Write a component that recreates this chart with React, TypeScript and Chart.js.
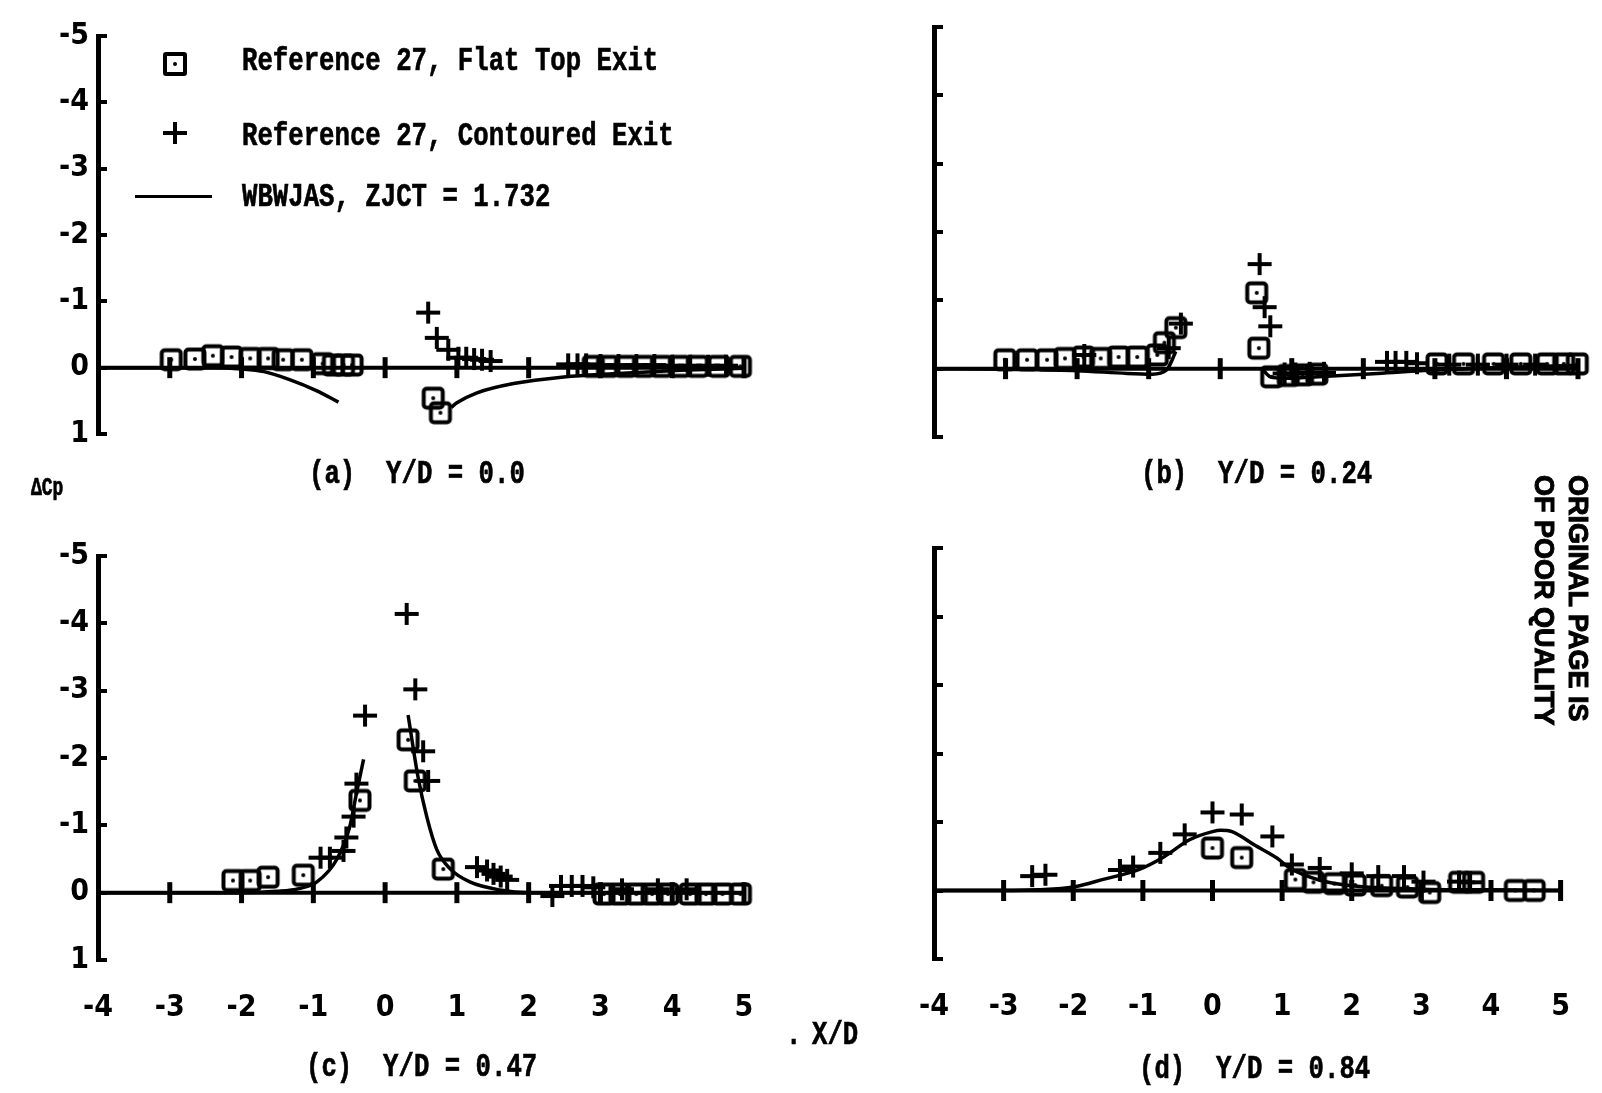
import React, { useEffect, useRef } from 'react';
import { Chart, registerables } from 'chart.js';

Chart.register(...registerables);

type Pt = [number, number];

// ---- axis ticks ----
const xTickLabels = [-4, -3, -2, -1, 0, 1, 2, 3, 4, 5];
const yTickLabels = [-5, -4, -3, -2, -1, 0, 1];
const xAxisMarks = [-3, -2, -1, 0, 1, 2, 3, 4, 5];

// ---- (a) Y/D = 0.0 ----
const aFlat: Pt[] = [
  [-2.98, -0.12], [-2.65, -0.13], [-2.4, -0.18], [-2.14, -0.16], [-1.88, -0.14], [-1.63, -0.14],
  [-1.42, -0.12], [-1.16, -0.12], [-0.87, -0.06], [-0.72, -0.04], [-0.58, -0.04], [-0.46, -0.04],
  [0.67, 0.46], [0.77, 0.68],
  [2.9, -0.02], [3.1, -0.02], [3.35, -0.02], [3.6, -0.02], [3.85, -0.02], [4.1, -0.02], [4.35, -0.02], [4.65, -0.02], [4.95, -0.02],
];
const aCont: Pt[] = [
  [0.6, -0.83], [0.72, -0.45], [0.88, -0.27], [1.02, -0.15], [1.13, -0.15], [1.24, -0.13], [1.35, -0.12], [1.47, -0.1],
  [2.55, -0.05], [2.68, -0.05], [2.8, -0.05], [3.0, -0.04], [3.25, -0.04], [3.5, -0.04], [3.75, -0.04],
  [4.0, -0.03], [4.25, -0.03], [4.5, -0.03], [4.75, -0.03],
];
const aCurveLeft: Pt[] = [[-4, 0], [-3, 0], [-2.4, 0], [-2.0, 0.02], [-1.69, 0.06], [-1.33, 0.18], [-0.95, 0.35], [-0.65, 0.52]];
const aCurveRight: Pt[] = [[0.92, 0.6], [1.0, 0.53], [1.28, 0.38], [1.79, 0.24], [2.49, 0.14], [3.18, 0.09], [4.11, 0.04], [5, 0.01]];

// ---- (b) Y/D = 0.24 ----
const bFlat: Pt[] = [
  [-3.01, -0.13], [-2.7, -0.13], [-2.42, -0.13], [-2.17, -0.15], [-1.91, -0.17], [-1.67, -0.15], [-1.42, -0.17],
  [-1.16, -0.17], [-0.88, -0.2], [-0.78, -0.38], [-0.62, -0.6],
  [0.51, -1.11], [0.54, -0.3], [0.72, 0.12], [0.95, 0.1], [1.15, 0.09], [1.35, 0.08],
  [3.03, -0.07], [3.4, -0.07], [3.82, -0.07], [4.2, -0.07], [4.57, -0.07], [4.8, -0.07], [4.99, -0.07],
];
const bCont: Pt[] = [
  [-1.9, -0.2], [-0.72, -0.3], [-0.55, -0.66], [0.55, -1.53], [0.62, -0.9], [0.7, -0.62],
  [0.9, 0.07], [1.05, 0.07], [1.25, 0.06], [1.45, 0.06], [2.33, -0.1], [2.45, -0.1], [2.6, -0.1], [2.75, -0.08],
  [3.2, -0.06], [3.6, -0.06], [4.0, -0.06], [4.4, -0.06],
];
const bCurveLeft: Pt[] = [[-4, 0], [-3, 0.01], [-2, 0.03], [-1.3, 0.07], [-0.95, 0.08], [-0.75, 0.02], [-0.62, -0.25]];
const bCurveRight: Pt[] = [[0.6, 0.02], [0.7, 0.12], [0.9, 0.14], [1.5, 0.11], [2.2, 0.07], [3, 0.02], [4, -0.02], [5, -0.05]];

// ---- (c) Y/D = 0.47 ----
const cFlat: Pt[] = [
  [-2.12, -0.18], [-1.88, -0.18], [-1.63, -0.23], [-1.14, -0.26], [-0.35, -1.37],
  [0.32, -2.27], [0.42, -1.66], [0.81, -0.35],
  [3.05, 0.02], [3.27, 0.02], [3.5, 0.02], [3.72, 0.02], [3.94, 0.02], [4.25, 0.02], [4.47, 0.02], [4.7, 0.02], [4.95, 0.02],
];
const cCont: Pt[] = [
  [-0.9, -0.52], [-0.77, -0.52], [-0.58, -0.62], [-0.54, -0.82], [-0.44, -1.13], [-0.4, -1.62], [-0.28, -2.63],
  [0.3, -4.14], [0.42, -3.02], [0.53, -2.1], [0.6, -1.66],
  [1.28, -0.38], [1.42, -0.33], [1.51, -0.28], [1.61, -0.24], [1.7, -0.19],
  [2.33, 0.05], [2.45, -0.1], [2.6, -0.1], [2.75, -0.1], [2.9, -0.08], [3.3, -0.05], [3.8, -0.05], [4.2, -0.05],
];
const cCurveLeft: Pt[] = [[-4, 0], [-2, 0], [-1.5, -0.02], [-1.2, -0.06], [-0.95, -0.16], [-0.67, -0.5], [-0.49, -0.99], [-0.4, -1.47], [-0.3, -1.98]];
const cCurveRight: Pt[] = [[0.32, -2.64], [0.46, -1.71], [0.58, -1.13], [0.72, -0.64], [0.91, -0.35], [1.18, -0.16], [1.6, -0.04], [2.0, 0], [3, 0], [5, 0]];

// ---- (d) Y/D = 0.84 ----
const dFlat: Pt[] = [
  [0.0, -0.62], [0.42, -0.48], [1.19, -0.16], [1.45, -0.12], [1.75, -0.1], [2.05, -0.08], [2.43, -0.07],
  [2.8, -0.05], [3.12, 0.03], [3.55, -0.12], [3.75, -0.12], [4.35, 0.0], [4.62, 0.0],
];
const dCont: Pt[] = [
  [-2.59, -0.21], [-2.4, -0.23], [-1.33, -0.3], [-1.14, -0.35], [-0.75, -0.55], [-0.4, -0.82], [0.0, -1.14],
  [0.42, -1.11], [0.86, -0.79], [1.14, -0.38], [1.54, -0.33], [2.0, -0.25], [2.38, -0.21], [2.75, -0.21],
  [3.03, -0.13], [3.54, -0.13], [3.7, -0.12],
];
const dCurve: Pt[] = [
  [-4, 0], [-3, 0], [-2.5, -0.01], [-2, -0.05], [-1.54, -0.17], [-1.07, -0.3], [-0.7, -0.49], [-0.33, -0.74],
  [0.0, -0.86], [0.12, -0.88], [0.28, -0.86], [0.61, -0.66], [0.93, -0.47], [1.12, -0.32], [1.54, -0.15],
  [2.0, -0.07], [3, -0.02], [4, -0.01], [5, 0],
];

const TICK_FONT = '"Liberation Sans Narrow", "DejaVu Sans Condensed", "Liberation Sans", Arial, sans-serif';
const MONO = '"Liberation Mono", "DejaVu Sans Mono", monospace';

interface PanelSpec {
  left: number; top: number; width: number; height: number;
  area: { l: number; t: number; r: number; b: number };
  flat: Pt[]; cont: Pt[]; curves: Pt[][];
  showX: boolean; showY: boolean;
}

const panels: PanelSpec[] = [
  { left: 0, top: 0, width: 800, height: 470, area: { l: 98, t: 29, r: 744, b: 437 }, flat: aFlat, cont: aCont, curves: [aCurveLeft, aCurveRight], showX: false, showY: true },
  { left: 820, top: 0, width: 780, height: 470, area: { l: 934, t: 27, r: 1578, b: 437 }, flat: bFlat, cont: bCont, curves: [bCurveLeft, bCurveRight], showX: false, showY: false },
  { left: 0, top: 520, width: 800, height: 573, area: { l: 98, t: 548, r: 744, b: 960 }, flat: cFlat, cont: cCont, curves: [cCurveLeft, cCurveRight], showX: true, showY: true },
  { left: 820, top: 520, width: 780, height: 573, area: { l: 934, t: 548, r: 1578, b: 959 }, flat: dFlat, cont: dCont, curves: [dCurve], showX: true, showY: false },
];

function makeSquare(): HTMLCanvasElement {
  const c = document.createElement('canvas');
  c.width = 26; c.height = 26;
  const g = c.getContext('2d')!;
  g.strokeStyle = '#000';
  g.lineWidth = 4;
  g.lineJoin = 'round';
  g.beginPath();
  if ((g as any).roundRect) (g as any).roundRect(3.5, 3.5, 19, 19, 3);
  else g.rect(3.5, 3.5, 19, 19);
  g.stroke();
  g.fillStyle = '#000';
  g.beginPath();
  g.arc(13, 13, 2, 0, Math.PI * 2);
  g.fill();
  return c;
}

function makePlus(): HTMLCanvasElement {
  const c = document.createElement('canvas');
  c.width = 26; c.height = 24;
  const g = c.getContext('2d')!;
  g.strokeStyle = '#000';
  g.lineWidth = 4;
  g.beginPath();
  g.moveTo(1, 12); g.lineTo(25, 12);
  g.moveTo(13, 1); g.lineTo(13, 23);
  g.stroke();
  return c;
}

function buildConfig(p: PanelSpec, sq: HTMLCanvasElement, pl: HTMLCanvasElement): any {
  const toXY = (arr: Pt[]) => arr.map(([x, y]) => ({ x, y }));
  const curveSets = p.curves.map((c) => ({
    data: toXY(c), showLine: true, borderColor: '#000', borderWidth: 3.5, pointRadius: 0, pointHoverRadius: 0,
    cubicInterpolationMode: 'monotone', clip: false,
  }));
  const axisLine = {
    data: [{ x: xTickLabels[0], y: 0 }, { x: xTickLabels[xTickLabels.length - 1], y: 0 }],
    showLine: true, borderColor: '#000', borderWidth: 4, pointRadius: 0, pointHoverRadius: 0, clip: false,
  };
  const marks = {
    data: xAxisMarks.map((x) => ({ x, y: 0 })), pointStyle: 'line', pointRotation: 90, pointRadius: 10.5,
    pointBorderWidth: 5, pointBorderColor: '#000', pointBackgroundColor: '#000', clip: false,
  };
  const flat = { data: toXY(p.flat), pointStyle: sq, pointRadius: 5, pointBorderWidth: 0, clip: false };
  const cont = { data: toXY(p.cont), pointStyle: pl, pointRadius: 5, pointBorderWidth: 0, clip: false };

  const yWidth = p.area.l - p.left;
  const xHeight = p.top + p.height - p.area.b;
  const font = { family: TICK_FONT, size: 30, weight: 'bold' as const };

  return {
    type: 'scatter',
    data: { datasets: [cont, flat, ...curveSets, marks, axisLine] },
    options: {
      animation: false,
      responsive: false,
      events: [],
      layout: { padding: { left: 0, top: p.area.t - p.top, right: p.left + p.width - p.area.r, bottom: 0 } },
      plugins: { legend: { display: false }, tooltip: { enabled: false } },
      scales: {
        x: {
          type: 'linear', min: xTickLabels[0], max: xTickLabels[xTickLabels.length - 1], position: 'bottom',
          grid: { display: false, drawTicks: false },
          border: { display: false },
          ticks: { display: p.showX, color: '#000', font, padding: 30, autoSkip: false, maxRotation: 0 },
          afterBuildTicks: (s: any) => { s.ticks = xTickLabels.map((v) => ({ value: v })); },
          afterFit: (s: any) => { s.height = xHeight; },
        },
        y: {
          type: 'linear', min: yTickLabels[0], max: yTickLabels[yTickLabels.length - 1], reverse: true,
          grid: { drawOnChartArea: false, drawTicks: true, tickLength: -9, color: '#000', lineWidth: 4 },
          border: { display: true, color: '#000', width: 5 },
          ticks: { display: p.showY, color: '#000', font, padding: 18, autoSkip: false },
          afterBuildTicks: (s: any) => { s.ticks = yTickLabels.map((v) => ({ value: v })); },
          afterFit: (s: any) => { s.width = yWidth; },
        },
      },
    },
  };
}

function Txt(props: { x: number; cy: number; text: string; size?: number; sy?: number }) {
  const size = props.size ?? 25.7;
  const sy = props.sy ?? 1.3;
  return (
    <div
      style={{
        position: 'absolute', left: props.x, top: props.cy - 13, height: 30, lineHeight: '30px',
        fontFamily: MONO, fontWeight: 'bold', fontSize: size, whiteSpace: 'pre', color: '#000',
        transform: `scaleY(${sy})`, transformOrigin: 'left center',
        WebkitTextStroke: '0.5px #000',
      }}
    >
      {props.text}
    </div>
  );
}

export default function App() {
  const r0 = useRef<HTMLCanvasElement>(null);
  const r1 = useRef<HTMLCanvasElement>(null);
  const r2 = useRef<HTMLCanvasElement>(null);
  const r3 = useRef<HTMLCanvasElement>(null);
  const refs = [r0, r1, r2, r3];

  useEffect(() => {
    const sq = makeSquare();
    const pl = makePlus();
    const charts = panels.map((p, i) => new Chart(refs[i].current as HTMLCanvasElement, buildConfig(p, sq, pl)));
    return () => charts.forEach((c) => c.destroy());
  }, []);

  return (
    <div style={{ position: 'absolute', left: 0, top: 0, width: 1602, height: 1093, background: '#fff', overflow: 'hidden' }}>
      {panels.map((p, i) => (
        <canvas
          key={i}
          ref={refs[i]}
          width={p.width}
          height={p.height}
          style={{ position: 'absolute', left: p.left, top: p.top, width: p.width, height: p.height }}
        />
      ))}

      {/* legend */}
      <div style={{ position: 'absolute', left: 163, top: 52, width: 16, height: 16, border: '4px solid #000', borderRadius: 3 }}>
        <div style={{ position: 'absolute', left: 6, top: 6, width: 4, height: 4, borderRadius: 2, background: '#000' }} />
      </div>
      <div style={{ position: 'absolute', left: 163, top: 131, width: 24, height: 4, background: '#000' }} />
      <div style={{ position: 'absolute', left: 173, top: 122, width: 4, height: 22, background: '#000' }} />
      <div style={{ position: 'absolute', left: 135, top: 195, width: 77, height: 3, background: '#000' }} />
      <Txt x={242} cy={60} text="Reference 27, Flat Top Exit" />
      <Txt x={242} cy={135} text="Reference 27, Contoured Exit" />
      <Txt x={242} cy={196} text="WBWJAS, ZJCT = 1.732" />

      {/* captions */}
      <Txt x={309} cy={473} text="(a)  Y/D = 0.0" />
      <Txt x={1141} cy={473} text="(b)  Y/D = 0.24" />
      <Txt x={306} cy={1066} text="(c)  Y/D = 0.47" />
      <Txt x={1139} cy={1068} text="(d)  Y/D = 0.84" />

      <Txt x={31} cy={486} text="ΔCp" size={18} sy={1.4} />
      <Txt x={786} cy={1034} text="." />
      <Txt x={812} cy={1034} text="X/D" />

      {/* vertical note */}
      <div
        style={{
          position: 'absolute', left: 1595, top: 475, transform: 'rotate(90deg)', transformOrigin: 'top left',
          fontFamily: '"Liberation Sans", Arial, sans-serif', fontWeight: 900, fontSize: 27, lineHeight: '34px',
          whiteSpace: 'pre', color: '#000', WebkitTextStroke: '1px #000',
        }}
      >
        {'ORIGINAL PAGE IS\nOF POOR QUALITY'}
      </div>
    </div>
  );
}
